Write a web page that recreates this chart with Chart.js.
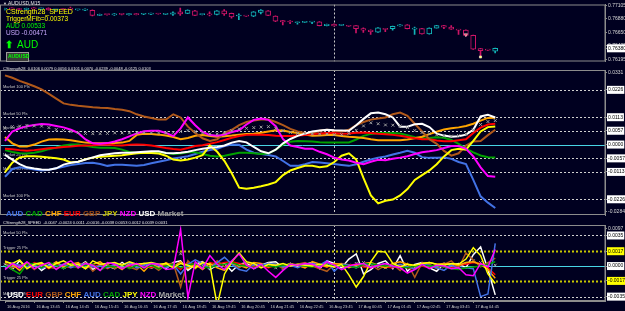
<!DOCTYPE html>
<html>
<head>
<meta charset="utf-8">
<script src="https://cdn.jsdelivr.net/npm/chart.js@4.4.1/dist/chart.umd.min.js"></script>
<style>
  html, body { margin: 0; padding: 0; background: #000020; overflow: hidden; }
  #wrap { position: relative; width: 625px; height: 311px; overflow: hidden; background: #000020; }
  canvas { position: absolute; left: 0; }
</style>
</head>
<body>
<div id="wrap">
  <canvas id="cPrice" width="640" height="66" style="top:0px"></canvas>
  <canvas id="cStr" width="640" height="155" style="top:65px"></canvas>
  <canvas id="cSpd" width="640" height="91" style="top:220px"></canvas>
</div>
<script>
// ---- data (AUDUSD M15, 16 Aug 12:45 -> 17 Aug 05:30) ----
const xTickText = ['16 Aug 2016', '16 Aug 13:45', '16 Aug 14:45', '16 Aug 15:45', '16 Aug 16:45', '16 Aug 17:45',
  '16 Aug 18:45', '16 Aug 19:45', '16 Aug 20:45', '16 Aug 21:45', '16 Aug 22:45', '16 Aug 23:45',
  '17 Aug 00:45', '17 Aug 01:45', '17 Aug 02:45', '17 Aug 03:45', '17 Aug 04:45'];
const daySplit = 45; // 17 Aug 00:00

const candleOpen = [0.77040,0.77050,0.77045,0.77035,0.77055,0.77045,0.77058,0.77030,0.77040,0.77060,
  0.77030,0.77025,0.77020,0.76935,0.76950,0.76945,0.76958,0.76950,0.76962,0.76955,
  0.76958,0.76964,0.76954,0.76956,0.76996,0.76971,0.77011,0.76948,0.76961,0.76951,
  0.77011,0.76971,0.76926,0.76930,0.76921,0.76986,0.77011,0.76926,0.76847,0.76830,
  0.76812,0.76818,0.76822,0.76827,0.76762,0.76787,0.76768,0.76762,0.76762,0.76713,
  0.76688,0.76653,0.76705,0.76713,0.76757,0.76777,0.76703,0.76713,0.76623,0.76722,
  0.76762,0.76737,0.76692,0.76688,0.76598,0.76375,0.76355,0.76330];
const candleHigh = [0.77060,0.77065,0.77055,0.77060,0.77070,0.77060,0.77065,0.77040,0.77050,0.77075,
  0.77040,0.77045,0.77030,0.76960,0.76955,0.76965,0.76965,0.76965,0.76970,0.76962,
  0.76975,0.76968,0.76960,0.76996,0.77060,0.77030,0.77020,0.76958,0.76996,0.77016,
  0.77036,0.76976,0.76961,0.76932,0.77000,0.77036,0.77016,0.76930,0.76850,0.76847,
  0.76825,0.76826,0.76830,0.76830,0.76790,0.76792,0.76780,0.76765,0.76765,0.76727,
  0.76692,0.76732,0.76713,0.76757,0.76782,0.76782,0.76737,0.76718,0.76727,0.76767,
  0.76767,0.76762,0.76698,0.76692,0.76603,0.76380,0.76360,0.76385];
const candleLow = [0.77025,0.77035,0.77030,0.77030,0.77040,0.77030,0.77025,0.77020,0.77025,0.77030,
  0.77025,0.77015,0.76925,0.76930,0.76940,0.76935,0.76945,0.76940,0.76945,0.76948,
  0.76950,0.76958,0.76950,0.76936,0.76936,0.76965,0.76930,0.76945,0.76926,0.76946,
  0.76936,0.76887,0.76862,0.76920,0.76915,0.76961,0.76930,0.76830,0.76777,0.76797,
  0.76787,0.76815,0.76797,0.76757,0.76757,0.76752,0.76765,0.76748,0.76638,0.76648,
  0.76613,0.76648,0.76663,0.76688,0.76752,0.76708,0.76613,0.76618,0.76618,0.76718,
  0.76713,0.76700,0.76613,0.76590,0.76360,0.76225,0.76345,0.76300];
const candleClose = [0.77050,0.77045,0.77035,0.77055,0.77045,0.77050,0.77030,0.77035,0.77035,0.77038,
  0.77036,0.77040,0.76935,0.76950,0.76948,0.76960,0.76952,0.76958,0.76950,0.76958,
  0.76968,0.76960,0.76957,0.76981,0.76961,0.77026,0.76936,0.76953,0.76946,0.77011,
  0.76961,0.76911,0.76936,0.76924,0.76996,0.77026,0.76936,0.76837,0.76827,0.76825,
  0.76820,0.76822,0.76828,0.76762,0.76787,0.76757,0.76775,0.76752,0.76713,0.76688,
  0.76663,0.76727,0.76700,0.76752,0.76777,0.76713,0.76713,0.76623,0.76722,0.76762,
  0.76737,0.76703,0.76686,0.76598,0.76365,0.76340,0.76348,0.76380];
const signalIdx = [63, 65];
const signalPrice = [0.76609, 0.76233];

const topTicks = [0.77105, 0.76880, 0.76650, 0.76425, 0.76380, 0.76195];
const topTickLabels = ['0.77105', '0.76880', '0.76650', '0.76425', '0.76380', '0.76195'];

// CStrength28 (currency strength)
const audS = [-0.0133,-0.0101,-0.0094,-0.0098,-0.0103,-0.0107,-0.0104,-0.0098,-0.0092,-0.0085,
  -0.0080,-0.0076,-0.0075,-0.0080,-0.0088,-0.0083,-0.0083,-0.0085,-0.0088,-0.0084,
  -0.0077,-0.0071,-0.0065,-0.0058,-0.0053,-0.0048,-0.0039,-0.0030,-0.0023,-0.0017,
  -0.0006,0.0000,-0.0001,-0.0021,-0.0034,-0.0039,-0.0043,-0.0049,-0.0068,-0.0088,
  -0.0088,-0.0081,-0.0072,-0.0074,-0.0077,-0.0080,-0.0084,-0.0088,-0.0081,-0.0071,
  -0.0062,-0.0054,-0.0049,-0.0041,-0.0034,-0.0026,-0.0034,-0.0052,-0.0055,-0.0054,
  -0.0053,-0.0059,-0.0072,-0.0081,-0.0146,-0.0214,-0.0240,-0.0262];
const cadS = [-0.0023,-0.0031,-0.0036,-0.0037,-0.0034,-0.0028,-0.0019,-0.0012,-0.0004,0.0000,
  0.0000,-0.0005,-0.0010,-0.0013,-0.0013,-0.0014,-0.0021,-0.0031,-0.0036,-0.0035,
  -0.0032,-0.0031,-0.0035,-0.0039,-0.0037,-0.0032,-0.0032,-0.0039,-0.0046,-0.0049,
  -0.0046,-0.0040,-0.0034,-0.0034,-0.0036,-0.0039,-0.0037,-0.0021,0.0000,0.0012,
  0.0015,0.0014,0.0013,0.0010,0.0009,0.0009,0.0009,0.0009,0.0021,0.0036,
  0.0044,0.0048,0.0048,0.0048,0.0046,0.0039,0.0030,0.0026,0.0027,0.0030,
  0.0028,0.0019,0.0003,-0.0017,-0.0032,-0.0045,-0.0052,-0.0053];
const chfS = [0.0031,0.0005,-0.0008,-0.0008,0.0000,0.0012,0.0021,0.0022,0.0021,0.0018,
  0.0013,0.0008,0.0006,0.0005,0.0005,0.0006,0.0008,0.0015,0.0040,0.0045,
  0.0044,0.0041,0.0037,0.0031,0.0022,0.0027,0.0036,0.0039,0.0035,0.0032,
  0.0034,0.0037,0.0041,0.0044,0.0045,0.0049,0.0054,0.0059,0.0058,0.0052,
  0.0048,0.0041,0.0036,0.0037,0.0039,0.0039,0.0035,0.0032,0.0030,0.0027,
  0.0022,0.0018,0.0018,0.0018,0.0018,0.0021,0.0026,0.0032,0.0043,0.0053,
  0.0062,0.0067,0.0071,0.0077,0.0086,0.0099,0.0110,0.0111];
const eurS = [-0.0017,-0.0019,-0.0023,-0.0026,-0.0023,-0.0019,-0.0015,-0.0013,-0.0010,-0.0008,
  -0.0005,-0.0004,-0.0003,-0.0001,0.0000,-0.0003,-0.0004,-0.0001,0.0000,-0.0001,
  -0.0004,-0.0009,-0.0014,-0.0018,-0.0021,-0.0014,-0.0006,-0.0003,0.0003,0.0010,
  0.0019,0.0028,0.0035,0.0040,0.0041,0.0041,0.0039,0.0036,0.0035,0.0035,
  0.0037,0.0039,0.0044,0.0046,0.0048,0.0048,0.0045,0.0046,0.0049,0.0050,
  0.0048,0.0045,0.0043,0.0040,0.0036,0.0031,0.0026,0.0022,0.0022,0.0017,
  0.0014,0.0014,0.0018,0.0022,0.0048,0.0070,0.0083,0.0086];
const gbpS = [0.0286,0.0276,0.0263,0.0252,0.0241,0.0228,0.0209,0.0190,0.0170,0.0164,
  0.0160,0.0157,0.0154,0.0152,0.0151,0.0147,0.0144,0.0138,0.0125,0.0116,
  0.0110,0.0103,0.0103,0.0125,0.0112,0.0074,0.0048,0.0026,0.0015,0.0022,
  0.0048,0.0061,0.0080,0.0093,0.0099,0.0103,0.0103,0.0093,0.0080,0.0065,
  0.0054,0.0048,0.0048,0.0057,0.0061,0.0057,0.0054,0.0061,0.0080,0.0093,
  0.0103,0.0108,0.0112,0.0125,0.0132,0.0119,0.0086,0.0054,0.0022,0.0003,
  -0.0026,-0.0046,-0.0036,-0.0004,0.0013,0.0015,0.0039,0.0061];
const jpyS = [-0.0114,-0.0075,-0.0053,-0.0048,-0.0048,-0.0050,-0.0053,-0.0057,-0.0062,-0.0074,
  -0.0071,-0.0061,-0.0054,-0.0050,-0.0048,-0.0046,-0.0044,-0.0040,-0.0036,-0.0034,
  -0.0035,-0.0037,-0.0046,-0.0062,-0.0066,-0.0062,-0.0054,-0.0044,-0.0004,-0.0030,
  -0.0068,-0.0120,-0.0178,-0.0183,-0.0178,-0.0172,-0.0165,-0.0155,-0.0126,-0.0107,
  -0.0097,-0.0088,-0.0088,-0.0094,-0.0090,-0.0072,-0.0046,-0.0036,-0.0062,-0.0139,
  -0.0210,-0.0243,-0.0232,-0.0227,-0.0210,-0.0184,-0.0146,-0.0126,-0.0107,-0.0081,
  -0.0049,-0.0023,-0.0017,-0.0021,0.0015,0.0054,0.0072,0.0075];
const nzdS = [0.0015,0.0054,0.0067,0.0076,0.0081,0.0085,0.0083,0.0077,0.0071,0.0061,
  0.0048,0.0021,0.0005,0.0003,0.0006,0.0013,0.0022,0.0034,0.0046,0.0055,
  0.0057,0.0057,0.0048,0.0035,0.0067,0.0112,0.0080,0.0052,0.0039,0.0036,
  0.0041,0.0052,0.0059,0.0083,0.0102,0.0108,0.0102,0.0076,0.0022,-0.0004,
  -0.0010,-0.0017,-0.0017,-0.0030,-0.0040,-0.0054,-0.0062,-0.0066,-0.0075,-0.0081,
  -0.0071,-0.0063,-0.0065,-0.0059,-0.0054,-0.0048,-0.0039,-0.0032,-0.0028,-0.0023,
  -0.0014,-0.0006,-0.0006,-0.0018,-0.0049,-0.0094,-0.0130,-0.0133];
const usdS = [-0.0043,-0.0062,-0.0081,-0.0094,-0.0099,-0.0103,-0.0104,-0.0098,-0.0083,-0.0075,
  -0.0071,-0.0062,-0.0053,-0.0044,-0.0040,-0.0036,-0.0034,-0.0034,-0.0032,-0.0030,
  -0.0028,-0.0028,-0.0035,-0.0036,-0.0034,-0.0030,-0.0023,-0.0017,-0.0013,-0.0010,
  -0.0004,0.0008,0.0015,0.0009,-0.0010,-0.0028,-0.0036,-0.0021,0.0005,0.0023,
  0.0036,0.0045,0.0054,0.0058,0.0061,0.0059,0.0058,0.0057,0.0080,0.0106,
  0.0129,0.0132,0.0125,0.0112,0.0074,0.0074,0.0084,0.0086,0.0072,0.0045,
  0.0037,0.0032,0.0034,0.0041,0.0061,0.0116,0.0123,0.0112];
const marketS = [0.0067,0.0074,0.0076,0.0079,0.0077,0.0076,0.0070,0.0062,0.0058,0.0054,
  0.0049,0.0046,0.0045,0.0045,0.0046,0.0048,0.0048,0.0048,0.0049,0.0049,
  0.0048,0.0048,0.0049,0.0050,0.0054,0.0058,0.0054,0.0048,0.0044,0.0044,
  0.0048,0.0057,0.0065,0.0067,0.0070,0.0072,0.0074,0.0067,0.0057,0.0050,
  0.0046,0.0045,0.0044,0.0044,0.0043,0.0041,0.0041,0.0046,0.0059,0.0077,
  0.0090,0.0086,0.0081,0.0080,0.0077,0.0070,0.0058,0.0050,0.0045,0.0040,
  0.0036,0.0035,0.0037,0.0044,0.0061,0.0083,0.0095,0.0099];
const midTicks = [0.0296, 0.0226, 0.0113, 0.0057, 0, -0.0057, -0.0113, -0.0226, -0.0278];
const midTickLabels = ['0.0331', '0.0226', '0.0113', '0.0057', '0.0000', '-0.0057', '-0.0113', '-0.0226', '-0.0284'];

// CStrength28_SPEED
const usdV = [0.0002,-0.0004,0.0006,-0.0002,0.0003,-0.0005,0.0001,0.0004,-0.0003,0.0002,
  -0.0001,0.0005,-0.0004,0.0002,0.0000,-0.0003,0.0004,-0.0002,0.0001,0.0003,
  -0.0002,0.0001,-0.0003,0.0004,0.0006,-0.0005,0.0002,0.0005,-0.0004,0.0001,
  0.0003,-0.0006,0.0002,0.0004,-0.0003,0.0001,0.0004,0.0005,-0.0002,0.0003,
  -0.0001,0.0002,0.0004,-0.0003,0.0006,0.0003,-0.0002,0.0008,0.0014,-0.0009,
  -0.0004,0.0003,0.0006,-0.0003,0.0012,-0.0006,0.0002,0.0004,-0.0002,-0.0006,
  0.0003,0.0001,0.0003,-0.0002,0.0013,0.0022,-0.0004,-0.0033];
const eurV = [-0.0003,0.0002,0.0001,-0.0002,0.0004,0.0001,-0.0003,0.0002,0.0000,-0.0002,
  0.0003,0.0001,-0.0001,0.0002,-0.0003,0.0001,0.0002,-0.0001,0.0003,0.0000,
  -0.0002,0.0001,0.0003,0.0002,-0.0004,0.0005,0.0001,-0.0002,0.0004,0.0002,
  0.0004,0.0005,0.0003,0.0001,-0.0001,0.0000,-0.0002,0.0001,-0.0001,0.0000,
  0.0001,-0.0002,0.0002,0.0001,-0.0001,0.0002,0.0000,0.0001,0.0002,-0.0001,
  -0.0002,0.0001,-0.0001,-0.0002,0.0001,-0.0002,-0.0003,0.0000,-0.0002,0.0002,
  -0.0001,-0.0002,0.0001,0.0002,0.0004,0.0003,-0.0002,-0.0010];
const gbpV = [0.0004,-0.0002,0.0001,0.0003,-0.0004,0.0002,-0.0001,-0.0003,0.0002,0.0001,
  -0.0002,0.0004,-0.0006,0.0001,0.0002,-0.0003,0.0002,-0.0001,-0.0004,0.0003,
  0.0001,-0.0005,0.0002,0.0003,-0.0024,0.0006,-0.0003,0.0004,-0.0002,0.0006,
  -0.0001,0.0003,-0.0002,0.0004,0.0002,-0.0001,0.0003,0.0002,-0.0003,0.0001,
  0.0002,0.0004,0.0000,-0.0003,-0.0006,0.0002,0.0003,0.0001,-0.0002,0.0001,
  0.0002,-0.0004,0.0001,0.0002,-0.0005,0.0003,-0.0013,0.0004,0.0002,-0.0003,
  0.0002,0.0006,-0.0002,0.0015,0.0007,-0.0001,0.0004,0.0009];
const chfV = [0.0006,0.0002,-0.0005,0.0004,0.0001,0.0003,-0.0002,0.0005,-0.0001,0.0002,
  0.0004,-0.0003,0.0002,0.0005,-0.0002,0.0001,-0.0004,0.0003,0.0002,-0.0006,
  0.0003,-0.0002,0.0004,-0.0001,0.0005,-0.0003,0.0002,-0.0004,0.0003,-0.0002,
  -0.0005,0.0003,0.0001,-0.0002,0.0004,0.0003,-0.0001,0.0002,0.0000,0.0003,
  0.0001,-0.0002,0.0005,0.0002,-0.0001,0.0003,0.0002,-0.0002,0.0001,0.0003,
  0.0004,0.0001,-0.0002,0.0003,0.0005,0.0002,-0.0001,0.0003,0.0004,0.0002,
  0.0003,0.0002,0.0001,0.0004,0.0005,0.0002,-0.0004,-0.0014];
const audV = [-0.0002,0.0003,0.0001,-0.0001,0.0002,-0.0003,0.0001,0.0000,0.0002,-0.0002,
  0.0001,0.0003,-0.0001,0.0000,-0.0002,0.0002,0.0001,0.0004,-0.0002,0.0001,
  0.0003,0.0001,-0.0002,0.0002,-0.0009,0.0002,0.0007,0.0003,-0.0003,0.0004,
  0.0010,0.0002,-0.0004,-0.0006,0.0002,0.0001,0.0003,0.0002,-0.0001,0.0001,
  -0.0002,0.0002,0.0003,0.0001,0.0006,-0.0006,0.0002,0.0001,-0.0002,0.0003,
  0.0002,0.0001,0.0003,-0.0001,0.0002,-0.0001,-0.0003,0.0002,0.0001,-0.0002,
  -0.0005,0.0001,-0.0003,-0.0002,-0.0003,-0.0035,-0.0032,0.0026];
const cadV = [0.0001,-0.0004,-0.0009,0.0002,0.0003,-0.0002,0.0004,0.0001,-0.0003,0.0002,
  -0.0002,0.0001,0.0002,-0.0005,0.0000,-0.0001,0.0002,-0.0003,0.0001,-0.0002,
  0.0001,-0.0003,0.0000,0.0002,-0.0002,0.0001,0.0003,-0.0001,-0.0002,0.0001,
  0.0002,0.0004,0.0001,0.0000,-0.0002,0.0001,0.0000,-0.0001,0.0001,0.0002,
  0.0001,0.0000,-0.0001,0.0002,0.0001,0.0000,0.0001,0.0000,-0.0002,0.0002,
  0.0003,0.0001,0.0000,0.0001,-0.0001,-0.0002,0.0000,0.0001,0.0000,0.0001,
  -0.0001,-0.0003,-0.0004,-0.0002,-0.0001,0.0000,0.0002,0.0005];
const jpyV = [0.0005,0.0003,0.0007,-0.0003,0.0002,0.0004,-0.0002,0.0003,0.0006,0.0001,
  0.0002,-0.0003,0.0006,0.0002,0.0003,0.0004,0.0001,0.0005,0.0002,0.0003,
  0.0004,0.0002,0.0003,-0.0002,0.0003,0.0001,-0.0002,0.0004,0.0002,-0.0045,
  -0.0009,0.0005,0.0015,0.0005,0.0003,-0.0002,0.0002,0.0001,0.0003,0.0000,
  0.0002,0.0001,0.0000,0.0002,0.0001,-0.0001,0.0002,-0.0010,-0.0024,-0.0012,
  0.0005,0.0017,0.0016,0.0003,-0.0001,0.0002,0.0001,0.0003,0.0004,0.0002,
  0.0001,0.0003,0.0002,0.0008,0.0021,0.0012,-0.0009,-0.0020];
const nzdV = [-0.0004,0.0003,-0.0002,0.0005,-0.0003,0.0001,0.0004,-0.0004,0.0002,0.0006,
  -0.0002,0.0003,0.0001,-0.0005,0.0004,0.0002,-0.0003,0.0001,0.0003,-0.0002,
  0.0003,0.0002,-0.0004,-0.0003,0.0042,-0.0036,0.0005,-0.0003,0.0012,0.0002,
  -0.0004,0.0006,0.0014,0.0001,-0.0003,0.0002,-0.0006,-0.0013,-0.0005,0.0002,
  0.0001,0.0003,0.0002,-0.0002,0.0005,0.0001,-0.0004,0.0000,0.0002,0.0003,
  -0.0002,0.0001,0.0003,0.0000,-0.0002,-0.0008,-0.0004,0.0002,-0.0003,0.0001,
  0.0000,-0.0003,-0.0002,-0.0010,-0.0011,0.0003,-0.0001,0.0019];
const marketV = [0.0002,0.0001,-0.0001,0.0002,0.0000,-0.0001,0.0001,0.0002,-0.0001,0.0000,
  0.0001,-0.0002,0.0001,0.0000,0.0001,0.0002,-0.0001,0.0001,0.0000,0.0001,
  -0.0001,0.0001,0.0000,0.0002,0.0014,-0.0003,0.0002,0.0001,-0.0002,0.0001,
  0.0002,0.0003,0.0002,0.0001,0.0000,0.0001,0.0002,-0.0002,-0.0003,0.0001,
  0.0001,0.0000,0.0001,0.0000,0.0002,-0.0001,0.0000,0.0001,0.0003,0.0004,
  0.0002,-0.0001,-0.0002,0.0000,0.0001,-0.0001,-0.0002,0.0001,0.0000,-0.0001,
  -0.0001,0.0000,0.0001,0.0003,0.0006,0.0004,0.0002,0.0001];
const botTicks = [0.0043, 0.0035, 0.0017, 0, -0.0017, -0.0035];
const botTickLabels = ['0.0097', '0.0035', '0.0017', '0.0000', '-0.0017', '-0.0035'];

// ---- setup ----
const FONT = '"Liberation Sans", Arial, sans-serif';
Chart.defaults.font.family = FONT;
const BULL = '#12b4b8', BEAR = '#cc1466';
const COL = { AUD: '#4272e6', CAD: '#00a000', CHF: '#ffa500', EUR: '#ff0000', GBP: '#b0581a',
  JPY: '#ffff00', NZD: '#ff00ff', USD: '#ffffff', Market: '#a0a0a0' };

// 83 slots of 15 minutes from 16 Aug 12:45 (right side stays empty like the terminal)
const cats = [];
for (let i = 0; i < 83; i++) {
  const m = 12 * 60 + 45 + i * 15;
  cats.push(String(Math.floor(m / 60) % 24).padStart(2, '0') + ':' + String(m % 60).padStart(2, '0'));
}

const deco = {
  id: 'deco',
  beforeDatasetsDraw(chart, args, o) {
    const { ctx, chartArea: a, scales: { x, y } } = chart;
    ctx.save();
    ctx.beginPath(); ctx.rect(0, a.top, a.right, a.bottom - a.top); ctx.clip();
    (o.levels || []).forEach(l => {
      const py = Math.round(y.getPixelForValue(l.value)) + 0.5;
      ctx.strokeStyle = l.color; ctx.lineWidth = l.width || 1; ctx.setLineDash(l.dash || []);
      ctx.beginPath(); ctx.moveTo(0, py); ctx.lineTo(a.right, py); ctx.stroke();
    });
    if (o.dayLine != null) {
      const px = Math.round(x.getPixelForValue(o.dayLine)) + 0.5;
      ctx.strokeStyle = '#c8c8c8'; ctx.lineWidth = 1; ctx.setLineDash([2, 2]);
      ctx.beginPath(); ctx.moveTo(px, a.top); ctx.lineTo(px, a.bottom); ctx.stroke();
    }
    ctx.setLineDash([]);
    ctx.textBaseline = 'middle';
    ctx.font = '4px ' + FONT; ctx.fillStyle = '#c8c8c8';
    (o.levelText || []).forEach(t => ctx.fillText(t.text, 3, y.getPixelForValue(t.value) - 3));
    ctx.restore();
  },
  afterDraw(chart, args, o) {
    const { ctx, chartArea: a } = chart;
    ctx.save();
    ctx.strokeStyle = '#8c8c8c'; ctx.lineWidth = 1;
    ctx.strokeRect(0.5, a.top + 0.5, Math.round(a.right) - 0.5, a.bottom - a.top - 1);
    (o.boxes || []).forEach(b => {
      ctx.fillStyle = b.fill; ctx.fillRect(b.x, b.y, b.w, b.h);
      ctx.strokeStyle = b.stroke; ctx.strokeRect(b.x + 0.5, b.y + 0.5, b.w - 1, b.h - 1);
    });
    ctx.textBaseline = 'middle';
    (o.texts || []).forEach(t => {
      ctx.font = (t.bold ? 'bold ' : '') + t.size + 'px ' + FONT;
      ctx.fillStyle = t.color; ctx.fillText(t.text, t.x, t.y);
    });
    if (o.legend) {
      let px = o.legend.x;
      ctx.font = 'bold ' + o.legend.size + 'px ' + FONT;
      o.legend.items.forEach(name => {
        ctx.fillStyle = (o.legend.colors && o.legend.colors[name]) || COL[name];
        ctx.fillText(name, px, o.legend.y);
        px += ctx.measureText(name + ' ').width;
      });
    }
    ctx.restore();
  }
};

function xScale(show) {
  return {
    type: 'category', offset: false, display: show,
    grid: { display: show, offset: false, drawOnChartArea: false, tickLength: 2,
      color: c => (c.index % 4 === 0 && c.index / 4 < xTickText.length) ? '#8c8c8c' : 'rgba(0,0,0,0)' },
    border: { color: '#8c8c8c' },
    ticks: { autoSkip: false, maxRotation: 0, align: 'start', padding: 1, labelOffset: 2,
      color: '#c8c8c8', font: { size: 4 },
      callback: (v, i) => (i % 4 === 0 && xTickText[i / 4]) ? xTickText[i / 4] : '' },
    afterFit: s => { if (show) s.height = 10; s.paddingLeft = 0; s.paddingRight = 0; }
  };
}

function yScale(min, max, ticks, labels, box) {
  return {
    position: 'right', min: min, max: max,
    afterBuildTicks: s => { s.ticks = ticks.map(v => ({ value: v })); },
    afterFit: s => { s.width = 35; s.paddingTop = 0; s.paddingBottom = 0; },
    grid: { drawOnChartArea: false, tickLength: 2, color: '#8c8c8c' },
    border: { color: '#8c8c8c' },
    ticks: {
      autoSkip: false, padding: 1, font: { size: 5 },
      color: c => box[c.index] ? '#000000' : '#d8d8d8',
      showLabelBackdrop: c => !!box[c.index],
      backdropColor: c => box[c.index] || 'rgba(0,0,0,0)',
      backdropPadding: 1,
      callback: (v, i) => labels[i]
    }
  };
}

function lineSet(name, data, order, width) {
  return { label: name, data: data, borderColor: COL[name], backgroundColor: COL[name],
    borderWidth: width, pointRadius: 0, tension: 0, order: order };
}
function markSet(data, order) {
  return { label: 'Market', data: data, showLine: false, pointStyle: 'crossRot', pointRadius: 2,
    borderColor: COL.Market, borderWidth: 1, order: order };
}

const common = { responsive: false, animation: false, devicePixelRatio: 1, events: [] };

// ---- price panel ----
const candleCol = candleOpen.map((o, i) => candleClose[i] >= o ? BULL : BEAR);
const sigRed = cats.map((c, i) => signalIdx[0] === i ? signalPrice[0] : null);
const sigYel = cats.map((c, i) => signalIdx[1] === i ? signalPrice[1] : null);
new Chart(document.getElementById('cPrice'), {
  type: 'bar',
  data: {
    labels: cats,
    datasets: [
      { label: 'body', data: candleOpen.map((o, i) => [o, candleClose[i]]), grouped: false,
        barThickness: 5, minBarLength: 1, backgroundColor: '#000020', borderColor: candleCol,
        borderWidth: 1, borderSkipped: false, order: 1 },
      { label: 'wick', data: candleLow.map((l, i) => [l, candleHigh[i]]), grouped: false,
        barThickness: 1, backgroundColor: candleCol, order: 2 },
      { type: 'line', label: 'sell', data: sigRed, showLine: false, pointStyle: 'triangle', rotation: 180,
        pointRadius: 2, backgroundColor: '#ff4060', borderColor: '#ffffff', borderWidth: 0.5, order: 0 },
      { type: 'line', label: 'mark', data: sigYel, showLine: false, pointStyle: 'rect',
        pointRadius: 1.5, backgroundColor: '#ffff40', borderColor: '#ffffff', borderWidth: 0.5, order: 0 }
    ]
  },
  options: Object.assign({}, common, {
    layout: { padding: { left: 2, top: 1, bottom: 1, right: 0 } },
    scales: { x: xScale(false), y: yScale(0.76157, 0.77120, topTicks, topTickLabels, [null, null, null, null, '#ffffff', null]) },
    plugins: {
      legend: { display: false }, tooltip: { enabled: false },
      deco: {
        dayLine: daySplit,
        boxes: [{ x: 6, y: 52, w: 23, h: 10, fill: '#3a3a3a', stroke: '#9a9a9a' }],
        texts: [
          { text: '▼', x: 3, y: 4, size: 4, color: '#d0d0d0' },
          { text: 'AUDUSD,M15', x: 8, y: 4, size: 5, color: '#e0e0e0' },
          { text: 'CStrength28_SPEED', x: 6, y: 12, size: 7, color: '#ffff00' },
          { text: 'TriggerMFib=0.00373', x: 6, y: 19, size: 6.5, color: '#ffff00' },
          { text: 'AUD 0.00533', x: 6, y: 26, size: 6.5, color: '#00ff00' },
          { text: 'USD -0.00471', x: 6, y: 33, size: 6.5, color: '#c8a8ff' },
          { text: '⬆', x: 5, y: 45, size: 10, bold: true, color: '#00ff00' },
          { text: 'AUD', x: 17, y: 45, size: 10, color: '#00ff00' },
          { text: 'AUDUSD', x: 8, y: 57, size: 5, bold: true, color: '#00ff00' }
        ]
      }
    }
  }),
  plugins: [deco]
});

// ---- strength panel ----
new Chart(document.getElementById('cStr'), {
  type: 'line',
  data: {
    labels: cats,
    datasets: [
      lineSet('AUD', audS, 20, 2), lineSet('CAD', cadS, 19, 2), lineSet('CHF', chfS, 18, 2),
      lineSet('EUR', eurS, 17, 2), lineSet('GBP', gbpS, 16, 2), lineSet('JPY', jpyS, 15, 2),
      lineSet('NZD', nzdS, 14, 2), lineSet('USD', usdS, 13, 2), markSet(marketS, 5)
    ]
  },
  options: Object.assign({}, common, {
    layout: { padding: { left: 2, top: 0, bottom: 0, right: 0 } },
    scales: { x: xScale(false), y: yScale(-0.0291, 0.0308, midTicks, midTickLabels,
      [null, '#ffffff', '#ffffff', '#ffffff', '#ffffff', '#ffffff', '#ffffff', '#ffffff', null]) },
    plugins: {
      legend: { display: false }, tooltip: { enabled: false },
      deco: {
        dayLine: daySplit,
        levels: [
          { value: 0.0226, color: '#d0d0d0', dash: [2, 2] }, { value: 0.0113, color: '#d0d0d0', dash: [2, 2] },
          { value: 0.0057, color: '#d0d0d0', dash: [2, 2] }, { value: -0.0057, color: '#d0d0d0', dash: [2, 2] },
          { value: -0.0113, color: '#d0d0d0', dash: [2, 2] }, { value: -0.0226, color: '#d0d0d0', dash: [2, 2] },
          { value: 0, color: '#48d4e4' }
        ],
        levelText: [
          { value: 0.0226, text: 'Market 100 Pls' }, { value: 0.0113, text: 'Market 50 Pls' },
          { value: 0.0057, text: 'Market 25 Pls' }, { value: -0.0057, text: 'Market 25 Pls' },
          { value: -0.0113, text: 'Market 50 Pls' }, { value: -0.0226, text: 'Market 100 Pls' }
        ],
        texts: [
          { text: 'CStrength28  0.0106 0.0079 0.0056 0.0101 0.0070 -0.0239 -0.0048 -0.0125 0.0103', x: 3, y: 4, size: 4, color: '#e8e8e8' }
        ],
        legend: { x: 6, y: 149, size: 8, items: ['AUD', 'CAD', 'CHF', 'EUR', 'GBP', 'JPY', 'NZD', 'USD', 'Market'],
          colors: { JPY: '#c8c800', GBP: '#9a4a14' } }
      }
    }
  }),
  plugins: [deco]
});

// ---- speed panel ----
new Chart(document.getElementById('cSpd'), {
  type: 'line',
  data: {
    labels: cats,
    datasets: [
      markSet(marketV, 30),
      lineSet('USD', usdV, 20, 1.5), lineSet('EUR', eurV, 19, 1.5), lineSet('GBP', gbpV, 18, 1.5),
      lineSet('CHF', chfV, 17, 1.5), lineSet('AUD', audV, 16, 1.5), lineSet('CAD', cadV, 15, 1.5),
      lineSet('JPY', jpyV, 14, 1.5), lineSet('NZD', nzdV, 13, 1.5)
    ]
  },
  options: Object.assign({}, common, {
    layout: { padding: { left: 2, top: 0, bottom: 0, right: 0 } },
    scales: { x: xScale(true), y: yScale(-0.0040, 0.0047, botTicks, botTickLabels,
      [null, '#ffffff', '#ffff00', '#ffffff', '#ffff00', '#ffffff']) },
    plugins: {
      legend: { display: false }, tooltip: { enabled: false },
      deco: {
        dayLine: daySplit,
        levels: [
          { value: 0.0035, color: '#d0d0d0', dash: [2, 2] }, { value: -0.0035, color: '#d0d0d0', dash: [2, 2] },
          { value: 0.0017, color: '#c8c800', dash: [2, 2], width: 2 }, { value: -0.0017, color: '#c8c800', dash: [2, 2], width: 2 },
          { value: 0, color: '#48d4e4' }
        ],
        levelText: [
          { value: 0.0035, text: 'Market 50 Pls' }, { value: 0.0017, text: 'Trigger 25 Pls' },
          { value: -0.0017, text: 'Trigger 25 Pls' }, { value: -0.0035, text: 'Market 50 Pls' }
        ],
        texts: [
          { text: 'CStrength28_SPEED  -0.0047 -0.0024 0.0011 -0.0016 -0.0038 0.0053 0.0012 0.0039 0.0031', x: 3, y: 3, size: 4, color: '#e8e8e8' }
        ],
        legend: { x: 7, y: 75, size: 8, items: ['USD', 'EUR', 'GBP', 'CHF', 'AUD', 'CAD', 'JPY', 'NZD', 'Market'] }
      }
    }
  }),
  plugins: [deco]
});
</script>
</body>
</html>
